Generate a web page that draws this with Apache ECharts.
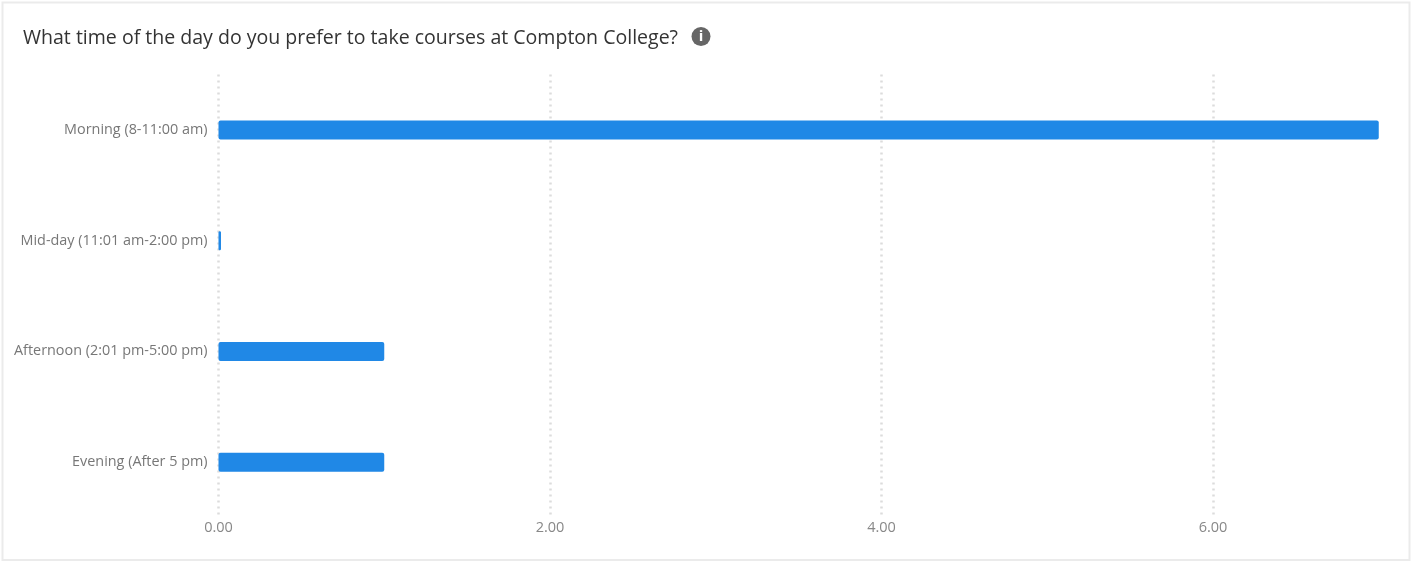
<!DOCTYPE html>
<html>
<head>
<meta charset="utf-8">
<style>html,body{margin:0;padding:0;background:#fff}#c{width:1411px;height:561px}</style>
<script src="https://cdn.jsdelivr.net/npm/echarts@6/dist/echarts.min.js"></script>
</head>
<body>
<div id="c"></div>
<script>
const titleText = 'What time of the day do you prefer to take courses at Compton College?';
const categories = ['Morning (8-11:00 am)', 'Mid-day (11:01 am-2:00 pm)', 'Afternoon (2:01 pm-5:00 pm)', 'Evening (After 5 pm)'];
const values = [7, 0.015, 1, 1];
const axisMax = 7;
const axisStep = 2;

const chart = echarts.init(document.getElementById('c'), null, {renderer: 'canvas'});
chart.setOption({
  animation: false,
  backgroundColor: '#fff',
  textStyle: {fontFamily: '"Open Sans"'},
  title: {
    text: titleText, left: 18, top: 19,
    textStyle: {fontFamily: '"Open Sans"', fontSize: 19.55, fontWeight: 'normal', color: '#333', lineHeight: 28}
  },
  grid: {left: 218.5, top: 74.5, width: 1160.25, height: 443, containLabel: false},
  xAxis: {
    type: 'value', min: 0, max: axisMax, interval: axisStep,
    axisLine: {show: false}, axisTick: {show: false},
    axisLabel: {
      showMaxLabel: false, margin: 3, color: '#888', fontSize: 14.5, fontFamily: '"Open Sans"',
      formatter: v => v.toFixed(2)
    },
    splitLine: {show: true, showMaxLine: false, lineStyle: {color: '#dcdcdc', width: 2.5, type: [2, 4]}}
  },
  yAxis: {
    type: 'category', inverse: true, data: categories,
    axisLine: {show: false}, axisTick: {show: false},
    axisLabel: {margin: 11, color: '#777', fontSize: 14.4, fontFamily: '"Open Sans"'},
    splitLine: {show: false}
  },
  series: [{
    type: 'bar', data: values, barWidth: 19,
    itemStyle: {color: '#2088e6', borderRadius: 2}
  }],
  graphic: [
    {type: 'rect', silent: true, z: -1, shape: {x: 2.5, y: 2.5, width: 1407, height: 557.5},
     style: {fill: 'none', stroke: '#ebebeb', lineWidth: 2}},
    {type: 'circle', silent: true, shape: {cx: 701, cy: 36.5, r: 9.5}, style: {fill: '#666'}},
    {type: 'text', silent: true, x: 701, y: 37,
     style: {text: 'i', fill: '#fff', fontSize: 15, fontWeight: 'bold', fontFamily: '"Open Sans"', align: 'center', verticalAlign: 'middle'}}
  ]
});
</script>
</body>
</html>
